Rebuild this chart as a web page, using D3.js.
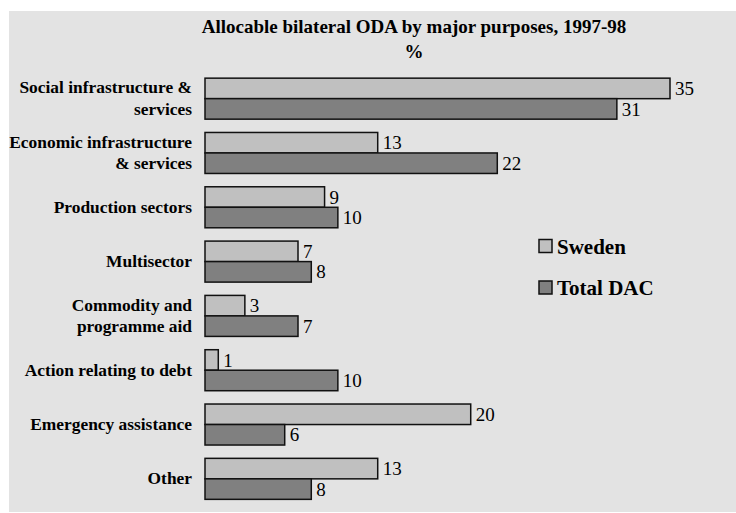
<!DOCTYPE html>
<html>
<head>
<meta charset="utf-8">
<script src="https://cdn.jsdelivr.net/npm/d3@7"></script>
<style>
  body { margin: 0; background: #fff; }
  svg { display: block; }
</style>
</head>
<body>
<svg id="chart"></svg>
<script>
const categories = [
  'Social infrastructure &\nservices',
  'Economic infrastructure\n& services',
  'Production sectors',
  'Multisector',
  'Commodity and\nprogramme aid',
  'Action relating to debt',
  'Emergency assistance',
  'Other'
];
const seriesNames = ['Sweden', 'Total DAC'];
const sweden = [35, 13, 9, 7, 3, 1, 20, 13];
const totalDac = [31, 22, 10, 8, 7, 10, 6, 8];
const colors = ['#c0c0c0', '#808080'];

const width = 736;
const height = 513;
const serif = '"Liberation Serif"';

const svg = d3.select('#chart')
  .attr('width', width)
  .attr('height', height);

svg.append('rect')
  .attr('x', 9)
  .attr('y', 11)
  .attr('width', width - 9)
  .attr('height', 501)
  .attr('fill', '#e3e3e3');

const x = d3.scaleLinear()
  .domain([0, 35])
  .range([205, 670]);

const y = d3.scaleBand()
  .domain(categories)
  .range([71.5, 506])
  .paddingInner(0.245)
  .paddingOuter(0.1225);

const sub = d3.scaleBand()
  .domain(seriesNames)
  .range([0, y.bandwidth()]);

const rows = categories.map((c, i) => ({ cat: c, vals: [sweden[i], totalDac[i]] }));

svg.append('text')
  .attr('x', 414)
  .attr('y', 33)
  .attr('text-anchor', 'middle')
  .style('font-family', serif)
  .style('font-weight', 'bold')
  .style('font-size', '19px')
  .text('Allocable bilateral ODA by major purposes, 1997-98');

svg.append('text')
  .attr('x', 414)
  .attr('y', 58)
  .attr('text-anchor', 'middle')
  .style('font-family', serif)
  .style('font-weight', 'bold')
  .style('font-size', '19px')
  .text('%');

const g = svg.selectAll('.group')
  .data(rows)
  .enter()
  .append('g')
  .attr('class', 'group')
  .attr('transform', d => `translate(0,${y(d.cat)})`);

g.selectAll('rect')
  .data(d => d.vals.map((v, j) => ({ v, s: seriesNames[j], j })))
  .enter()
  .append('rect')
  .attr('x', x(0))
  .attr('y', d => sub(d.s))
  .attr('width', d => x(d.v) - x(0))
  .attr('height', sub.bandwidth())
  .attr('fill', d => colors[d.j])
  .attr('stroke', '#111')
  .attr('stroke-width', 1.5);

g.selectAll('.val')
  .data(d => d.vals.map((v, j) => ({ v, s: seriesNames[j] })))
  .enter()
  .append('text')
  .attr('class', 'val')
  .attr('x', d => x(d.v) + 5)
  .attr('y', d => sub(d.s) + sub.bandwidth() / 2)
  .attr('dy', '0.35em')
  .style('font-family', serif)
  .style('font-size', '19px')
  .text(d => d.v);

g.append('text')
  .attr('text-anchor', 'end')
  .style('font-family', serif)
  .style('font-weight', 'bold')
  .style('font-size', '17.4px')
  .each(function (d) {
    const lines = d.cat.split('\n');
    const t = d3.select(this);
    lines.forEach((line, k) => {
      t.append('tspan')
        .attr('x', 192)
        .attr('y', y.bandwidth() / 2 + 5.5 + (k - (lines.length - 1) / 2) * 21.5)
        .text(line);
    });
  });

const legend = svg.append('g')
  .selectAll('g')
  .data(seriesNames)
  .enter()
  .append('g')
  .attr('transform', (d, i) => `translate(539,${239.5 + i * 41.5})`);

legend.append('rect')
  .attr('width', 13)
  .attr('height', 13)
  .attr('fill', (d, i) => colors[i])
  .attr('stroke', '#111')
  .attr('stroke-width', 1.5);

legend.append('text')
  .attr('x', 18)
  .attr('y', 14)
  .style('font-family', serif)
  .style('font-weight', 'bold')
  .style('font-size', '21px')
  .text(d => d);
</script>
</body>
</html>
